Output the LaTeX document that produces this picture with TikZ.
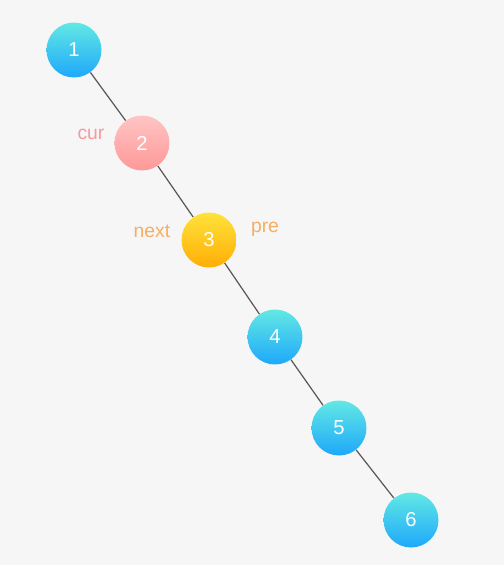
\documentclass[tikz,border=0pt]{standalone}
\usepackage{fontspec}
\setmainfont{Liberation Sans}
\usepackage{tikz}
\definecolor{bg}{HTML}{F6F6F6}
\definecolor{bluetop}{HTML}{62E8E4}
\definecolor{bluebot}{HTML}{1EA8FA}
\definecolor{pinktop}{HTML}{FFC4C4}
\definecolor{pinkbot}{HTML}{FF9898}
\definecolor{goldtop}{HTML}{FFE23A}
\definecolor{goldbot}{HTML}{FFAE06}
\definecolor{curtxt}{HTML}{F59A9E}
\definecolor{ptrtxt}{HTML}{F5AE62}

\begin{document}
\begin{tikzpicture}[x=0.02cm,y=-0.02cm,every edge/.style = {draw=black!65,line width=0.7pt},
  vrtx/.style args = {#1/#2}{circle, top color=#1, bottom color=#2, draw=none, minimum size=1.1cm, inner sep=0pt, text=white, font=\fontsize{11.5}{13}\selectfont},
  tag/.style = {text=#1, inner sep=0pt, font=\fontsize{11}{13}\selectfont}]
\fill[bg] (0,0) rectangle (504,565);
\useasboundingbox (0,0) rectangle (504,565);
\node (n1) [vrtx=bluetop/bluebot] at (74,50)  {1};
\node (n2) [vrtx=pinktop/pinkbot] at (142,143) {2};
\node (n3) [vrtx=goldtop/goldbot] at (209,240) {3};
\node (n4) [vrtx=bluetop/bluebot] at (275,337) {4};
\node (n5) [vrtx=bluetop/bluebot] at (339,428) {5};
\node (n6) [vrtx=bluetop/bluebot] at (411,520) {6};
\node (cur)  [tag=curtxt] at (91,134)  {cur};
\node (next) [tag=ptrtxt] at (152,231) {next};
\node (pre)  [tag=ptrtxt] at (265,229) {pre};
\foreach \from/\to in {n1/n2,n2/n3,n3/n4,n4/n5,n5/n6}
\draw (\from) edge (\to);
\end{tikzpicture}
\end{document}
